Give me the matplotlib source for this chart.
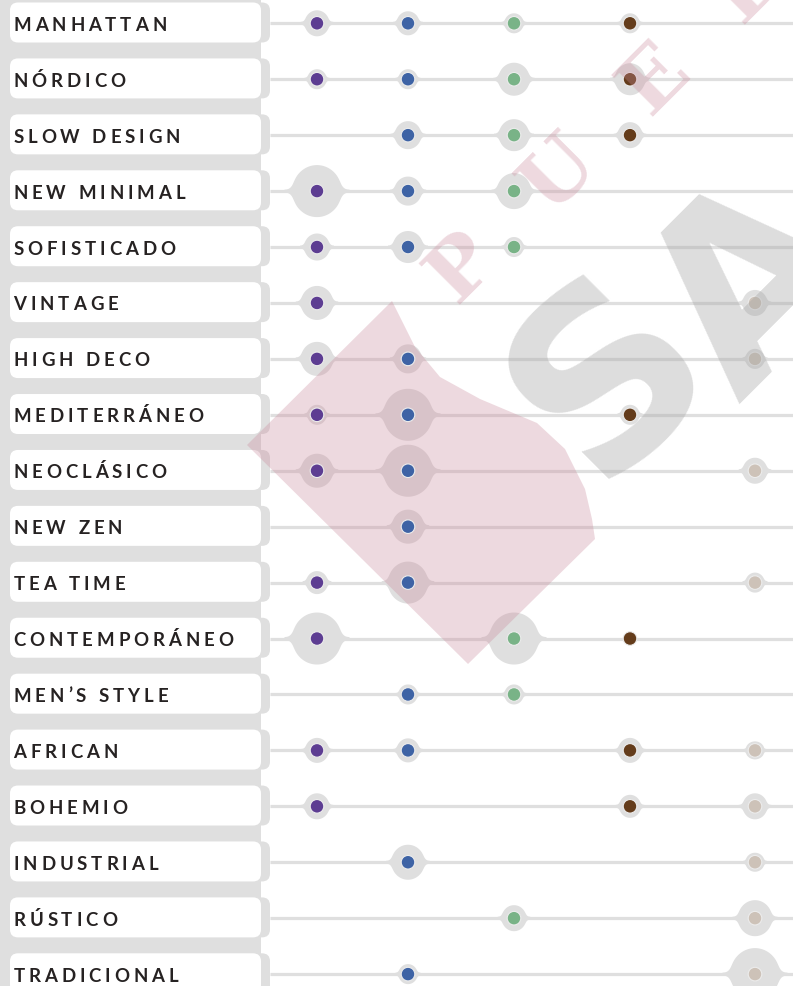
import numpy as np
import matplotlib
matplotlib.use("Agg")
import matplotlib.pyplot as plt
from matplotlib.patches import FancyBboxPatch, Rectangle, Polygon
from matplotlib.textpath import TextToPath
from matplotlib.font_manager import FontProperties

# ---------------- data ----------------
styles = ["MANHATTAN", "NÓRDICO", "SLOW DESIGN", "NEW MINIMAL", "SOFISTICADO",
          "VINTAGE", "HIGH DECO", "MEDITERRÁNEO", "NEOCLÁSICO", "NEW ZEN",
          "TEA TIME", "CONTEMPORÁNEO", "MEN’S STYLE", "AFRICAN", "BOHEMIO",
          "INDUSTRIAL", "RÚSTICO", "TRADICIONAL"]
nan = np.nan
purple = [13, 10, nan, 26, 13.5, 17, 17, 10, 17, nan, 11.5, 26, nan, 12.5, 13, nan, nan, nan]
blue   = [12, 10, 14, 14.5, 16, nan, 14.5, 26, 26, 17, 21, nan, 10, 12, nan, 17.5, nan, 10]
green  = [10, 16.5, 16, 18, 10, nan, nan, nan, nan, nan, nan, 26, 10, nan, nan, nan, 13, nan]
brown  = [10, 16, 13, nan, nan, nan, nan, 10, nan, nan, nan, 0, nan, 12.5, 11.5, nan, nan, nan]
beige  = [nan, nan, nan, nan, nan, 13, 10, nan, 13, nan, 10, nan, nan, 9, 13, 9.5, 18, 26]
series = [purple, blue, green, brown, beige]

# ---------------- style / layout ----------------
W, H = 793, 987
COL_X = [317, 408, 514, 630, 755]
Y0, ROW_H = 24.3, 55.93
DOT_COLORS = ["#5d3d92", "#3e63a5", "#79b387", "#643c1b", "#cdc2b8"]
GRAY = "#dfdfdf"
DOT_R = 6.8
LINE_T = 1.6

fig = plt.figure(figsize=(W / 100, H / 100), dpi=100)
ax = fig.add_axes([0, 0, 1, 1])
ax.set_xlim(0, W)
ax.set_ylim(H, 0)
ax.axis("off")

def row_y(i):
    return Y0 + i * ROW_H

# left strip
ax.add_patch(Rectangle((0, 0), 261, H, color=GRAY, lw=0, zorder=1))

font = FontProperties(family="Lato", weight="bold", size=13.4)
t2p = TextToPath()
TRACK = 3.9  # px

for i, name in enumerate(styles):
    y = row_y(i) - 0.8
    ax.add_patch(FancyBboxPatch((235, y - 20), 35, 40,
                                boxstyle="round,pad=0,rounding_size=8",
                                fc=GRAY, ec="none", zorder=2))
    ax.add_patch(FancyBboxPatch((10, y - 20), 251, 40,
                                boxstyle="round,pad=0,rounding_size=8",
                                fc="white", ec="none", zorder=3))
    x = 13.5
    for ch in name:
        w, h, d = t2p.get_text_width_height_descent(ch, font, ismath=False)
        wpx = w * 100 / 72
        ax.text(x, y + 7.3, ch, fontproperties=font, color="#262222",
                ha="left", va="baseline", zorder=4)
        x += wpx + TRACK
    ax.plot([270, W], [row_y(i), row_y(i)], color=GRAY, lw=LINE_T * 72 / 100 * 2,
            solid_capstyle="butt", zorder=2)

def halo(cx, cy, R, t=1.5):
    # round bulge joined to the line by a smooth concave bezier skirt
    rx = max(0.95 * R, DOT_R + 2.8)
    L = 1.25 * R
    th = np.radians(38)
    E = np.array([-rx * np.cos(th), R * np.sin(th)])
    P0 = np.array([-L, t])
    k = 0.45 * np.hypot(*(E - P0))
    tang = np.array([-rx * np.sin(th), -R * np.cos(th)])
    tang /= np.hypot(*tang)
    P1 = P0 + np.array([k, 0])
    P2 = E + k * tang
    s = np.linspace(0, 1, 300)[:, None]
    B = ((1 - s) ** 3) * P0 + 3 * ((1 - s) ** 2) * s * P1 + 3 * (1 - s) * s ** 2 * P2 + s ** 3 * E
    xs = np.linspace(-L, L, 700)
    ax_ = np.abs(xs)
    he = R * np.sqrt(np.clip(1 - (ax_ / rx) ** 2, 0, None))
    order = np.argsort(B[:, 0])
    hb = np.interp(-ax_, B[order, 0], B[order, 1])
    hs = np.where(ax_ <= -E[0], he, hb)
    upper = np.column_stack([cx + xs, cy - hs])
    lower = np.column_stack([cx + xs[::-1], cy + hs[::-1]])
    return np.vstack([upper, lower])

for j, vals in enumerate(series):
    for i, v in enumerate(vals):
        if np.isnan(v):
            continue
        cx, cy = COL_X[j], row_y(i)
        if v > DOT_R:
            ax.add_patch(Polygon(halo(cx, cy, v), closed=True, fc=GRAY, ec="none", zorder=5))
        ax.add_patch(plt.Circle((cx, cy), DOT_R, fc=DOT_COLORS[j], ec="#ececec",
                                lw=0.8, zorder=7))

# ---------------- watermark ----------------
pink = "#cb8c9e"
blob = [(247, 446), (392, 302), (400, 318), (415, 348), (440, 378), (480, 400),
        (537, 424), (565, 450), (585, 490), (592, 520), (595, 540), (468, 665)]
ax.add_patch(Polygon(blob, closed=True, fc=pink, alpha=0.33, ec="none", zorder=6))
for ch, (lx, ly) in zip("PUED", [(462, 268), (560, 175), (655, 80), (750, -15)]):
    ax.text(lx, ly, ch, fontsize=58, fontweight="bold", family="DejaVu Serif",
            color=pink, alpha=0.33, rotation=45, ha="center", va="center",
            rotation_mode="anchor", zorder=8)
for ch, (lx, ly) in zip("SA", [(612, 378), (758, 290)]):
    ax.text(lx, ly, ch, fontsize=175, fontweight="bold", family="DejaVu Sans",
            color="#a5a5a5", alpha=0.38, rotation=45, ha="center", va="center",
            rotation_mode="anchor", zorder=8)

fig.savefig("out.png", dpi=100)
